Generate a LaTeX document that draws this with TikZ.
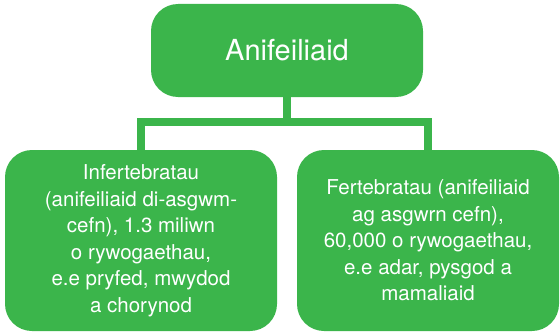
\documentclass[tikz,border=0pt]{standalone}
\usepackage{fontspec}
\setmainfont{TeX Gyre Heros}
\usepackage{tikz}
\definecolor{animalgreen}{RGB}{59,181,75}

\begin{document}
\begin{tikzpicture}
[x=1pt, y=1pt, greenbox/.style={fill=animalgreen, text=white, rounded corners=27pt, align=center, inner sep=0pt}, top box/.style={greenbox, minimum width=272pt, minimum height=93pt, font=\fontsize{29}{35}\selectfont}, low box/.style={greenbox, minimum height=181pt, font=\fontsize{20.5}{26.5}\selectfont}, link/.style={draw=animalgreen, line width=8pt}]
    \useasboundingbox (0,0) rectangle (560,333);
    \node[top box] (anifeiliaid) at (287,282.5) {Anifeiliaid};
    \node[low box, minimum width=272pt] (infert) at (141,92.5) {Infertebratau\\(anifeiliaid di-asgwm-\\cefn), 1.3 miliwn\\o rywogaethau,\\e.e pryfed, mwydod\\a chorynod};
    \node[low box, minimum width=262pt] (fert) at (428,92.5) {Fertebratau (anifeiliaid\\ag asgwrn cefn),\\60,000 o rywogaethau,\\e.e adar, pysgod a\\mamaliaid};
    \draw[link] (anifeiliaid.south) -- ++(0,-25) coordinate (fork);
    \draw[link] (infert.north) |- (fork) -| (fert.north);
\end{tikzpicture}
\end{document}
